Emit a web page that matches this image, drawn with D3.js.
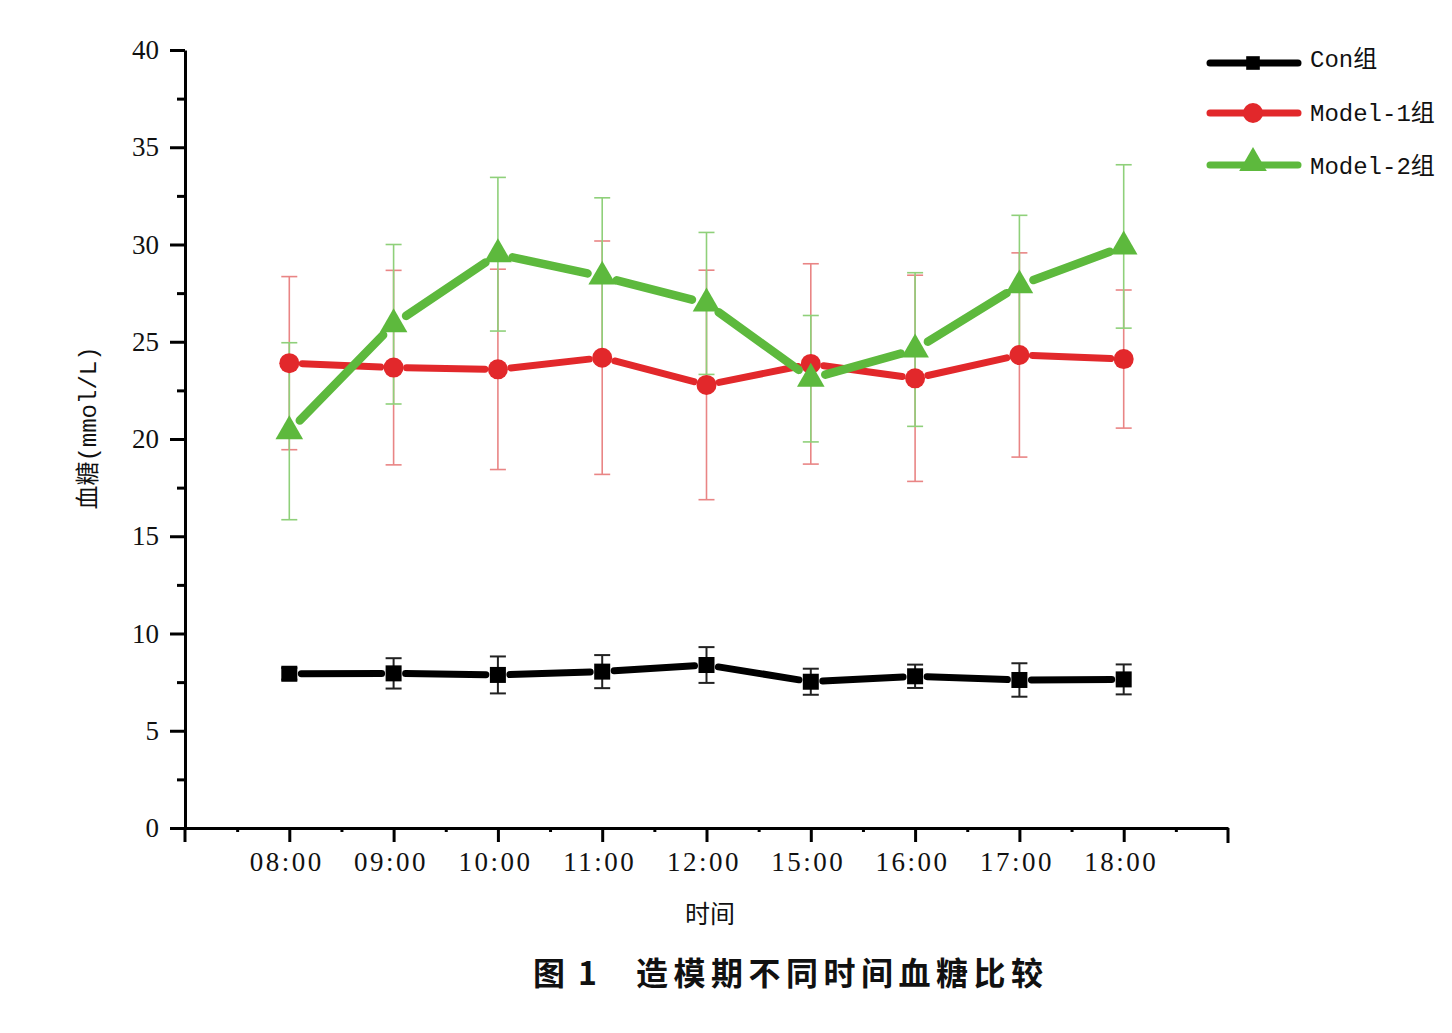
<!DOCTYPE html>
<html><head><meta charset="utf-8">
<script src="https://cdn.jsdelivr.net/npm/d3@7"></script>
<style>body{margin:0;background:#fff}svg{display:block}</style>
</head><body>
<script>
const categories = ["08:00","09:00","10:00","11:00","12:00","15:00","16:00","17:00","18:00"];
const conMean   = [7.93, 7.95, 7.87, 8.04, 8.38, 7.52, 7.80, 7.61, 7.64];
const conErr    = [0.30, 0.78, 0.95, 0.85, 0.92, 0.67, 0.60, 0.86, 0.77];
const m1Mean    = [23.90, 23.67, 23.58, 24.18, 22.78, 23.86, 23.12, 24.32, 24.11];
const m1Err     = [4.45, 5.00, 5.15, 6.00, 5.90, 5.15, 5.30, 5.25, 3.55];
const m2Mean    = [20.40, 25.90, 29.50, 28.35, 26.97, 23.10, 24.60, 27.90, 29.90];
const m2Err     = [4.55, 4.10, 3.95, 4.05, 3.65, 3.25, 3.95, 3.60, 4.20];
const yTicks    = [0,5,10,15,20,25,30,35,40];
const yMinor    = [2.5,7.5,12.5,17.5,22.5,27.5,32.5,37.5];
const seriesNames = ["Con组","Model-1组","Model-2组"];

const W=1452,H=1033;
const svg=d3.select("body").append("svg").attr("width",W).attr("height",H);
const x=d3.scalePoint().domain(categories).range([185,1228]).padding(1);
const y=d3.scaleLinear().domain([0,40]).range([828,50]);
const step=x.step();

const series=[
  {name:seriesNames[0],mean:conMean,err:conErr,color:"#000000",errColor:"#222",shape:"square",lw:7},
  {name:seriesNames[1],mean:m1Mean,err:m1Err,color:"#e2282b",errColor:"#e98585",shape:"circle",lw:7},
  {name:seriesNames[2],mean:m2Mean,err:m2Err,color:"#5db93d",errColor:"#8fd07a",shape:"triangle",lw:8.5}
];

// axes
const yAxis=svg.append("g").attr("transform","translate(185,0)")
  .call(d3.axisLeft(y).tickValues(yTicks).tickSize(15).tickPadding(9).tickSizeOuter(0));
const yAxisMinor=svg.append("g").attr("transform","translate(185,0)")
  .call(d3.axisLeft(y).tickValues(yMinor).tickSize(8).tickFormat("").tickSizeOuter(0));
yAxisMinor.select(".domain").remove();
const xAxis=svg.append("g").attr("transform","translate(0,828)")
  .call(d3.axisBottom(x).tickSize(14).tickPadding(6).tickSizeOuter(0));
const minorPos=categories.map(c=>x(c)-step/2).concat([x(categories[categories.length-1])+step/2]);
const xMinor=svg.append("g").attr("transform","translate(0,828)")
  .call(d3.axisBottom(d3.scaleLinear().domain([0,W]).range([0,W])).tickValues(minorPos).tickSize(4).tickFormat("").tickSizeOuter(0));
xMinor.select(".domain").remove();
svg.append("line").attr("x1",185).attr("x2",185).attr("y1",y(0)).attr("y2",y(0)+14).attr("stroke","#000").attr("stroke-width",3);
svg.append("line").attr("x1",x.range()[1]).attr("x2",x.range()[1]).attr("y1",y(0)).attr("y2",y(0)+15).attr("stroke","#000").attr("stroke-width",3);

svg.selectAll(".domain").attr("stroke","#000").attr("stroke-width",3);
svg.selectAll(".tick line").attr("stroke","#000").attr("stroke-width",3);
svg.selectAll(".tick text").attr("fill","#111").style("font-family","'Liberation Serif',serif").style("font-size","27px");
xAxis.selectAll(".tick text").style("letter-spacing","2.5px").attr("dy","0.85em").attr("dx","-3");
yAxis.selectAll(".tick text").attr("dx","-2");

// error bars
series.forEach(s=>{
  const g=svg.append("g");
  categories.forEach((c,i)=>{
    const cx=x(c),hi=y(s.mean[i]+s.err[i]),lo=y(s.mean[i]-s.err[i]);
    const w=s.shape==="square"?2:1.6;
    g.append("line").attr("x1",cx).attr("x2",cx).attr("y1",hi).attr("y2",lo).attr("stroke",s.errColor).attr("stroke-width",w);
    [hi,lo].forEach(yy=>g.append("line").attr("x1",cx-8).attr("x2",cx+8).attr("y1",yy).attr("y2",yy).attr("stroke",s.errColor).attr("stroke-width",w));
  });
});

function marker(g,shape,cx,cy,color,scale=1){
  if(shape==="square") g.append("rect").attr("x",cx-8*scale).attr("y",cy-8*scale).attr("width",16*scale).attr("height",16*scale).attr("fill",color);
  else if(shape==="circle") g.append("circle").attr("cx",cx).attr("cy",cy).attr("r",10*scale).attr("fill",color);
  else g.append("path").attr("d",d3.symbol().type(d3.symbolTriangle).size(330*scale*scale)()).attr("transform",`translate(${cx},${cy})`).attr("fill",color);
}
const gap={square:12,circle:13,triangle:15};
series.forEach(s=>{
  const g=svg.append("g");
  for(let i=0;i<categories.length-1;i++){
    const x1=x(categories[i]),y1=y(s.mean[i]),x2=x(categories[i+1]),y2=y(s.mean[i+1]);
    const dx=x2-x1,dy=y2-y1,L=Math.hypot(dx,dy),t=gap[s.shape]/L;
    g.append("line").attr("x1",x1+dx*t).attr("y1",y1+dy*t).attr("x2",x2-dx*t).attr("y2",y2-dy*t)
      .attr("stroke",s.color).attr("stroke-width",s.lw).attr("stroke-linecap","round");
  }
  categories.forEach((c,i)=>marker(g,s.shape,x(c),y(s.mean[i]),s.color));
});

// legend
const legY=[63,113,165];
const legTextY=[61,115,168];
series.forEach((s,i)=>{
  const g=svg.append("g");
  g.append("line").attr("x1",1210).attr("x2",1298).attr("y1",legY[i]).attr("y2",legY[i]).attr("stroke",s.color).attr("stroke-width",7).attr("stroke-linecap","round");
  marker(g,s.shape,1253,legY[i]-(s.shape==="triangle"?2:0),s.color,s.shape==="square"?0.85:1);
  g.append("text").attr("x",1310).attr("y",legTextY[i]).attr("dominant-baseline","middle")
    .style("font-family","'Liberation Mono','Noto Sans CJK SC',monospace").style("font-size","24px").attr("fill","#111").text(s.name);
});

// axis titles
svg.append("text").attr("transform","translate(96,428) rotate(-90)").attr("text-anchor","middle")
  .style("font-family","'Liberation Mono','Noto Sans CJK SC',monospace").style("font-size","24px").attr("fill","#111").text("血糖(mmol/L)");
svg.append("text").attr("x",710).attr("y",923).attr("text-anchor","middle")
  .style("font-family","'Noto Sans CJK SC',sans-serif").style("font-size","25px").attr("fill","#111").text("时间");
// caption
const cap=svg.append("text").attr("y",985).style("font-family","'Noto Sans CJK SC',sans-serif").style("font-size","32px").style("font-weight","700").attr("fill","#111");
cap.append("tspan").attr("x",533).text("图");
cap.append("tspan").attr("x",578).text("1");
cap.append("tspan").attr("x",636).style("letter-spacing","5.5px").text("造模期不同时间血糖比较");
</script>
</body></html>
